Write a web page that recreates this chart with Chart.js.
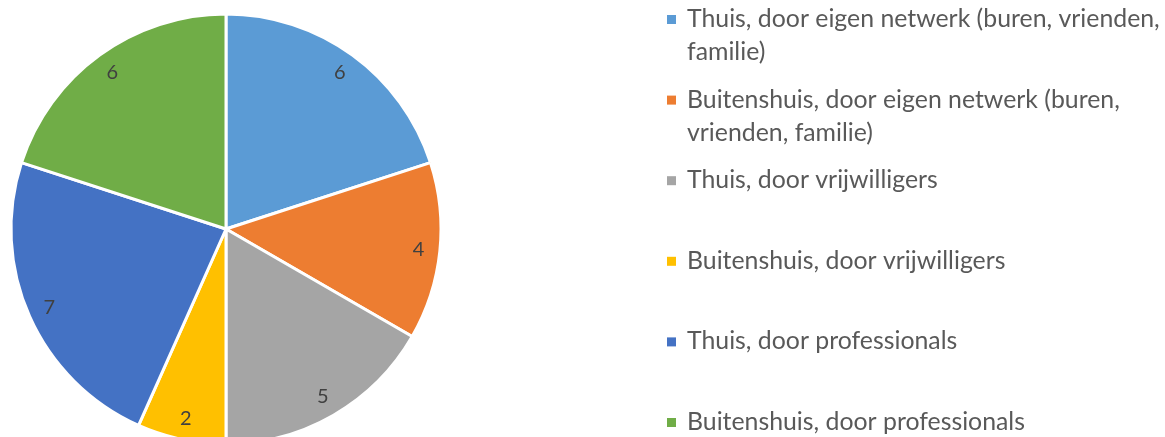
<!DOCTYPE html>
<html>
<head>
<meta charset="utf-8">
<script src="https://cdn.jsdelivr.net/npm/chart.js@4/dist/chart.umd.min.js"></script>
<style>
  html, body { margin: 0; padding: 0; background: #ffffff; overflow: hidden; }
  #wrap { position: relative; width: 1165px; height: 437px; }
  canvas { display: block; }
</style>
</head>
<body>
<div id="wrap"><canvas id="c" width="1165" height="437"></canvas></div>
<script>
const categories = [
  "Thuis, door eigen netwerk (buren, vrienden, familie)",
  "Buitenshuis, door eigen netwerk (buren, vrienden, familie)",
  "Thuis, door vrijwilligers",
  "Buitenshuis, door vrijwilligers",
  "Thuis, door professionals",
  "Buitenshuis, door professionals"
];
const values = [6, 4, 5, 2, 7, 6];
const colors = ["#5B9BD5", "#ED7D31", "#A5A5A5", "#FFC000", "#4472C4", "#70AD47"];

const FONT_FAMILY = "Lato, 'Open Sans', sans-serif";
const TEXT_COLOR = "#595959";
const LABEL_COLOR = "#404040";

// fit legend font so that the first wrapped line has the reference width
function legendFontSize(ctx) {
  ctx.font = "20px " + FONT_FAMILY;
  const w = ctx.measureText("Thuis, door eigen netwerk (buren, vrienden,").width;
  return 20 * 473 / w;
}

function wrap(ctx, text, maxWidth) {
  const words = text.split(" ");
  const lines = [];
  let cur = "";
  for (const w of words) {
    const test = cur ? cur + " " + w : w;
    if (ctx.measureText(test).width > maxWidth && cur) {
      lines.push(cur);
      cur = w;
    } else {
      cur = test;
    }
  }
  if (cur) lines.push(cur);
  return lines;
}

const labelsPlugin = {
  id: "sliceLabels",
  afterDatasetsDraw(chart) {
    const ctx = chart.ctx;
    const meta = chart.getDatasetMeta(0);
    ctx.save();
    ctx.font = "20px " + FONT_FAMILY;
    ctx.fillStyle = LABEL_COLOR;
    ctx.textAlign = "center";
    ctx.textBaseline = "middle";
    meta.data.forEach((arc, i) => {
      const p = arc.getProps(["x", "y", "startAngle", "endAngle", "outerRadius"], true);
      const mid = (p.startAngle + p.endAngle) / 2;
      const r = p.outerRadius * 0.9;
      ctx.fillText(String(values[i]), p.x + Math.cos(mid) * r, p.y + Math.sin(mid) * r);
    });
    ctx.restore();
  }
};

const legendPlugin = {
  id: "wrapLegend",
  afterDraw(chart) {
    const ctx = chart.ctx;
    ctx.save();
    const fs = legendFontSize(ctx);
    ctx.font = fs + "px " + FONT_FAMILY;
    ctx.textAlign = "left";
    ctx.textBaseline = "alphabetic";
    const textX = 687;
    const markerX = 667;
    const markerSize = 9;
    const firstBaseline = 27;
    const step = 80.6;
    const lineH = 33;
    categories.forEach((cat, i) => {
      const base = firstBaseline + i * step;
      ctx.fillStyle = colors[i];
      ctx.fillRect(markerX, base - 7.5 - markerSize / 2, markerSize, markerSize);
      ctx.fillStyle = TEXT_COLOR;
      const lines = wrap(ctx, cat, 478);
      lines.forEach((ln, j) => ctx.fillText(ln, textX, base + j * lineH));
    });
    ctx.restore();
  }
};

new Chart(document.getElementById("c"), {
  type: "pie",
  data: {
    labels: categories,
    datasets: [{
      data: values,
      backgroundColor: colors,
      borderColor: "#ffffff",
      borderWidth: 3,
      clip: false
    }]
  },
  options: {
    responsive: false,
    devicePixelRatio: 1,
    animation: false,
    radius: 215,
    layout: { padding: { top: 21, left: 0, right: 713, bottom: 0 } },
    plugins: {
      legend: { display: false },
      tooltip: { enabled: false },
      title: { display: false }
    }
  },
  plugins: [labelsPlugin, legendPlugin]
});
</script>
</body>
</html>
